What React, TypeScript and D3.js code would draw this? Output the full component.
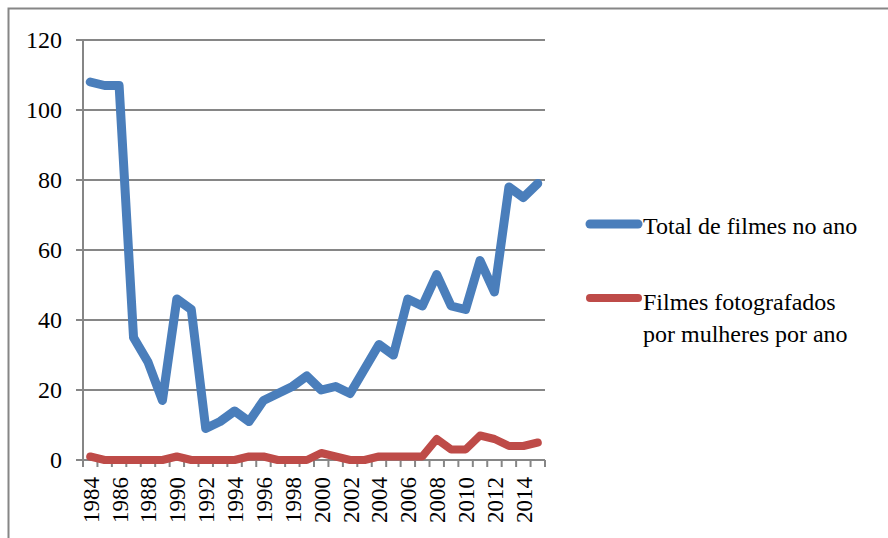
import React from "react";
import * as d3 from "d3";

const years = d3.range(1984, 2016).map(String);
const totalFilms = [108, 107, 107, 35, 28, 17, 46, 43, 9, 11, 14, 11, 17, 19, 21, 24, 20, 21, 19, 26, 33, 30, 46, 44, 53, 44, 43, 57, 48, 78, 75, 79];
const womenFilms = [1, 0, 0, 0, 0, 0, 1, 0, 0, 0, 0, 1, 1, 0, 0, 0, 2, 1, 0, 0, 1, 1, 1, 1, 6, 3, 3, 7, 6, 4, 4, 5];
const yTicks = [0, 20, 40, 60, 80, 100, 120];
const seriesNames = ["Total de filmes no ano", ["Filmes fotografados", "por mulheres por ano"]];

export default function App() {
  const W = 888, H = 538;
  const left = 83, right = 545, top = 40, bottom = 460;
  const x = d3.scaleBand<string>().domain(years).range([left, right]);
  const y = d3.scaleLinear().domain([0, 120]).range([bottom, top]);
  const line = (vals: number[]) =>
    d3.line<number>().x((_, i) => (x(years[i]) as number) + x.bandwidth() / 2).y((v) => y(v))(vals) as string;
  const font = "'Times New Roman', Times, Tinos, 'Liberation Serif', 'Noto Serif', 'DejaVu Serif', FreeSerif, serif";
  const grid = "#868686";
  const blue = "#4a7ebb";
  const red = "#be4b48";
  const boundaries = d3.range(years.length + 1).map((i) => left + i * x.step());
  const ts = { fontFamily: font };

  return (
    <svg width={W} height={H} style={{ position: "absolute", left: 0, top: 0, display: "block", background: "#fff" }}>
      <rect x={8.5} y={8.5} width={W + 20} height={H + 20} fill="#fff" stroke={grid} strokeWidth={2} />
      {yTicks.map((t) => (
        <g key={t}>
          {t > 0 && <line x1={left} x2={right} y1={y(t)} y2={y(t)} stroke={grid} strokeWidth={2} />}
          <line x1={left - 7} x2={left} y1={y(t)} y2={y(t)} stroke={grid} strokeWidth={2} />
          <text x={62} y={y(t)} textAnchor="end" dominantBaseline="central" style={ts} fontSize={24} fill="#000">
            {t}
          </text>
        </g>
      ))}
      <line x1={left} x2={left} y1={top} y2={bottom} stroke={grid} strokeWidth={2} />
      <line x1={left} x2={right} y1={bottom} y2={bottom} stroke={grid} strokeWidth={2} />
      {boundaries.map((b, i) => (
        <line key={i} x1={b} x2={b} y1={bottom} y2={bottom + 7} stroke={grid} strokeWidth={2} />
      ))}
      {years.map((yr, i) =>
        i % 2 === 0 ? (
          <text
            key={yr}
            transform={`translate(${(x(yr) as number) + x.bandwidth() / 2 + 1},477) rotate(-90)`}
            textAnchor="end"
            dominantBaseline="central"
            style={ts}
            fontSize={23}
            fill="#000"
          >
            {yr}
          </text>
        ) : null
      )}
      <path d={line(womenFilms)} fill="none" stroke={red} strokeWidth={8} strokeLinejoin="round" strokeLinecap="round" />
      <path d={line(totalFilms)} fill="none" stroke={blue} strokeWidth={9} strokeLinejoin="round" strokeLinecap="round" />
      <line x1={590} x2={638} y1={224} y2={224} stroke={blue} strokeWidth={9} strokeLinecap="round" />
      <text x={643} y={226} dominantBaseline="central" style={ts} fontSize={24} fill="#000">
        {seriesNames[0] as string}
      </text>
      <line x1={590} x2={638} y1={298} y2={298} stroke={red} strokeWidth={8} strokeLinecap="round" />
      {(seriesNames[1] as string[]).map((s, i) => (
        <text key={i} x={643} y={302 + i * 32} dominantBaseline="central" style={ts} fontSize={24} fill="#000">
          {s}
        </text>
      ))}
    </svg>
  );
}
